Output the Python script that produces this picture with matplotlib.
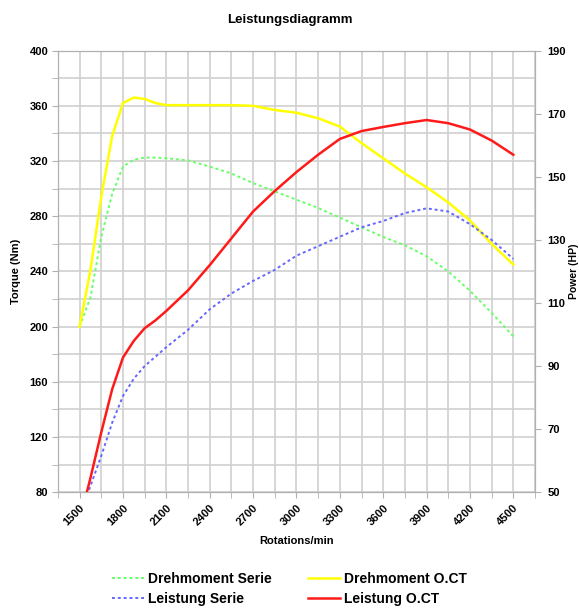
import matplotlib
matplotlib.use("Agg")
import matplotlib.pyplot as plt
from matplotlib.ticker import MultipleLocator

plt.rcParams['font.family'] = ['Liberation Sans', 'DejaVu Sans']
plt.rcParams['font.weight'] = 'bold'

# rpm values (denser at the start where the curves bend)
rpm = [1500, 1575, 1650, 1725, 1800, 1875, 1950, 2025, 2100, 2250, 2400,
       2550, 2700, 2850, 3000, 3150, 3300, 3450, 3600, 3750, 3900, 4050,
       4200, 4350, 4500]

# torque in Nm
torque_serie = [200, 221, 265, 296, 316, 321, 322.5, 322.5, 322, 320.5, 316,
                311, 304, 298, 292, 286, 279, 272, 265, 259, 251, 240,
                226, 210, 193]
torque_oct = [200, 241, 294, 338, 362, 366, 365, 362, 360.5, 360.5, 360.5,
              360.5, 360, 357, 355, 351, 345, 333, 322, 311, 301, 290,
              277, 260, 245]

# power in HP
power_serie = [42, 52, 61.5, 72, 80.5, 86, 90, 93, 96, 101.5, 108,
               113, 117, 120.5, 125, 128, 131, 134, 136, 138.5, 140, 139,
               135, 130, 124]
power_oct = [41, 54.5, 69, 82.6, 92.7, 98, 102, 104.5, 107.5, 114, 122,
             130.5, 139, 145.5, 151.5, 157, 162, 164.5, 165.8, 167, 168, 167,
             165, 161.5, 157]

grid_col = '#d0d0d0'

fig = plt.figure(figsize=(5.79, 6.10), dpi=100)
ax = fig.add_axes([0.100, 0.193, 0.824, 0.724])
ax2 = ax.twinx()

ax.plot(rpm, torque_serie, color='#66ff66', lw=1.4, ls=(0, (1.5, 1.5)), label='Drehmoment Serie', zorder=3)
ax2.plot(rpm, power_serie, color='#6666ff', lw=1.4, ls=(0, (1.5, 1.5)), label='Leistung Serie', zorder=3)
ax.plot(rpm, torque_oct, color='#ffff00', lw=1.8, label='Drehmoment O.CT', zorder=4)
ax2.plot(rpm, power_oct, color='#ff1a1a', lw=1.8, label='Leistung O.CT', zorder=4)

ax.set_xlim(1350, 4650)
ax.set_ylim(80, 400)
ax2.set_ylim(50, 190)

ax.set_xticks(range(1500, 4501, 300))
ax.xaxis.set_minor_locator(MultipleLocator(150))
ax.yaxis.set_major_locator(MultipleLocator(40))
ax.yaxis.set_minor_locator(MultipleLocator(20))
ax2.set_yticks(range(50, 191, 20))

ax.grid(True, which='both', color=grid_col, lw=1.2)
ax.set_axisbelow(True)

for a in (ax, ax2):
    for s in a.spines.values():
        s.set_color('#b0b0b0')
    a.tick_params(which='both', color='#b0b0b0', length=4, labelsize=8)

ax.tick_params(axis='y', which='both', pad=3)
ax2.tick_params(axis='y', pad=5)
plt.setp(ax.get_xticklabels(), rotation=45, ha='right', va='top', rotation_mode='anchor', fontweight='bold')

ax.set_ylabel('Torque (Nm)', fontsize=8, fontweight='bold', labelpad=6)
ax2.set_ylabel('Power (HP)', fontsize=7.5, fontweight='bold', labelpad=2)
ax.set_xlabel('Rotations/min', fontsize=8, fontweight='bold', labelpad=6)
fig.suptitle('Leistungsdiagramm', fontsize=9.5, fontweight='bold', x=0.5, y=0.977)

h1, l1 = ax.get_legend_handles_labels()
h2, l2 = ax2.get_legend_handles_labels()
handles = [h1[0], h2[0], h1[1], h2[1]]
labels = [l1[0], l2[0], l1[1], l2[1]]
fig.legend(handles, labels, loc='center', bbox_to_anchor=(0.5, 0.035), ncol=2,
           frameon=False, prop={'size': 10, 'weight': 'bold'},
           handlelength=2.3, handletextpad=0.3, columnspacing=2.6, labelspacing=0.45)

fig.savefig('out.png', dpi=100)
